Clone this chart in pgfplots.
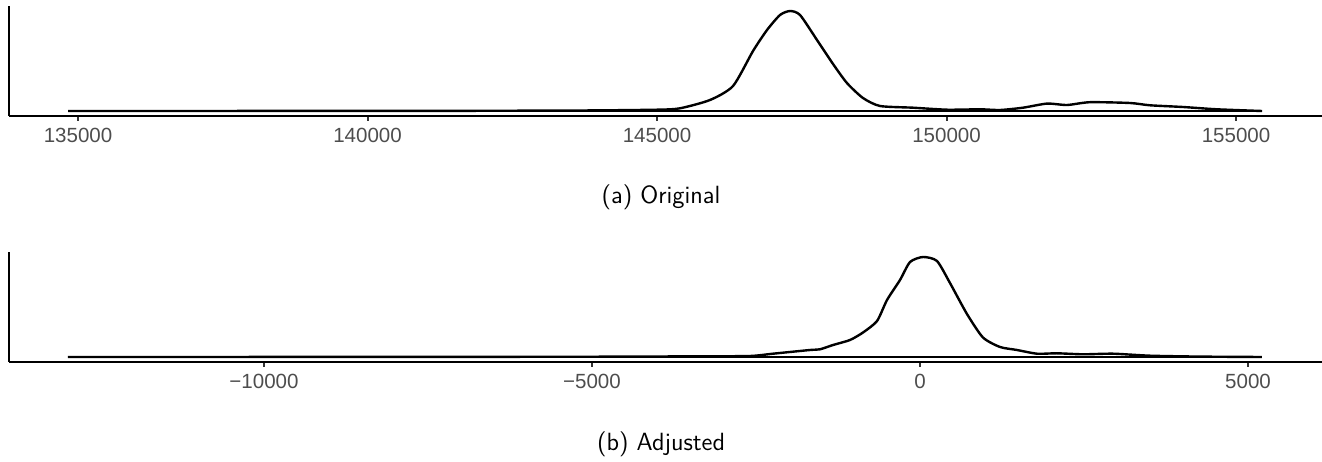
\documentclass[border=0pt]{standalone}
\usepackage{fontspec}
\newfontfamily\arialfont{Liberation Sans}
\usepackage{pgfplots}
\pgfplotsset{compat=1.18}
\definecolor{tickgray}{HTML}{333333}
\definecolor{labgray}{HTML}{4D4D4D}
\pgfplotsset{dens/.style={
  scale only axis, width=656.5bp, height=55bp,
  anchor=south west,
  axis x line=bottom, axis y line=left,
  axis line style={black, line width=1bp, -},
  ytick=\empty,
  ymin=-0.05, ymax=1.05,
  tick align=outside,
  major tick length=2.5bp,
  x tick style={tickgray, line width=1bp},
  xticklabel style={font=\arialfont\fontsize{10.3}{12}\selectfont, text=labgray},
  /pgf/number format/assume math mode=true,
  scaled x ticks=false,
  clip=false,
}}
\begin{document}
\begin{tikzpicture}
\useasboundingbox (0,0) rectangle (661bp,231bp);
\begin{axis}[dens, at={(4.5bp,173bp)}, xmin=133808, xmax=156485,
  xtick={135000,140000,145000,150000,155000},
  xticklabels={135000,140000,145000,150000,155000}]
\addplot[black, line width=1.2bp, smooth, tension=0.4] coordinates {
(134827,0) (138000,0.0005) (141000,0.001) (143670,0.005) (145000,0.013)
(145397,0.027) (145915,0.11) (146313,0.25) (146658,0.6) (146900,0.81)
(147124,0.96) (147297,1.0) (147470,0.96) (147763,0.71) (148040,0.47)
(148280,0.28) (148557,0.13) (148851,0.05) (149421,0.033) (150008,0.013)
(150578,0.017) (150924,0.01) (151321,0.033) (151736,0.074) (152081,0.06)
(152478,0.088) (153169,0.08) (153514,0.057) (154084,0.04) (154671,0.017)
(155449,0)};
\addplot[black, line width=1.2bp] coordinates {(134827,0) (155449,0)};
\end{axis}
\begin{axis}[dens, at={(4.5bp,50bp)}, xmin=-13887, xmax=6128,
  xtick={-10000,-5000,0,5000},
  xticklabels={−10000,−5000,0,5000}]
\addplot[black, line width=1.2bp, smooth, tension=0.4] coordinates {
(-12988,0) (-7927,0.001) (-4878,0.003) (-3354,0.007) (-2591,0.01)
(-2241,0.033) (-1677,0.07) (-1524,0.077) (-1326,0.12) (-1067,0.17)
(-869,0.245) (-655,0.36) (-503,0.57) (-305,0.77) (-152,0.95) (46,1.0)
(259,0.96) (457,0.74) (716,0.43) (960,0.195) (1220,0.1) (1479,0.07)
(1784,0.033) (2088,0.037) (2485,0.027) (2942,0.033) (3506,0.013)
(4268,0.004) (5213,0)};
\addplot[black, line width=1.2bp] coordinates {(-12988,0) (5213,0)};
\end{axis}
\node[font=\sffamily\fontsize{12.5}{15}\selectfont, anchor=base] at (330.5bp,129bp) {(a) Original};
\node[font=\sffamily\fontsize{12.5}{15}\selectfont, anchor=base] at (330.5bp,6bp) {(b) Adjusted};
\end{tikzpicture}
\end{document}
